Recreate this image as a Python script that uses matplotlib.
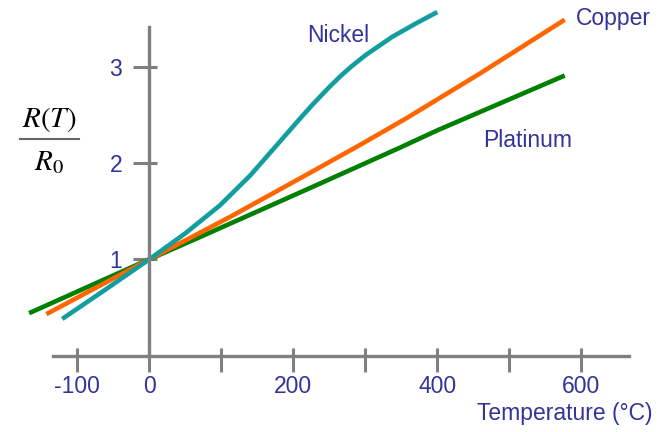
import matplotlib
matplotlib.use("Agg")
import matplotlib.pyplot as plt

# Resistencia relativa R(T)/R0 de tres metales
temp_platino = [-167, 0, 70, 223, 348, 400, 577]
r_platino = [0.44, 1.0, 1.23, 1.74, 2.16, 2.34, 2.91]

temp_cobre = [-143, 0, 112, 209, 293, 358, 459, 577]
r_cobre = [0.43, 1.0, 1.44, 1.84, 2.19, 2.47, 2.93, 3.49]

temp_niquel = [-121, -60, 0, 50, 98, 140, 181, 209, 227, 250, 265, 280, 300, 337, 370, 400]
r_niquel = [0.38, 0.69, 1.0, 1.27, 1.56, 1.87, 2.22, 2.46, 2.61, 2.79, 2.90, 3.00, 3.12,
            3.31, 3.45, 3.57]

ticks_x = [-100, 0, 100, 200, 300, 400, 500, 600]
etiquetas_x = ["-100", "0", "", "200", "", "400", "", "600"]
ticks_y = [1, 2, 3]

AZUL = "#333399"
GRIS = "#808080"

plt.rcParams["font.family"] = ["Liberation Sans", "DejaVu Sans"]
plt.rcParams["mathtext.fontset"] = "stix"

fig = plt.figure(figsize=(6.64, 4.32), dpi=100)
ax = fig.add_axes([0, 0, 1, 1])
ax.set_xlim(-207.4, 714.9)
ax.set_ylim(-0.795, 3.695)

ax.plot(temp_platino, r_platino, color="#008000", lw=3.3, solid_capstyle="butt")
ax.plot(temp_cobre, r_cobre, color="#FF6600", lw=3.3, solid_capstyle="butt")
ax.plot(temp_niquel, r_niquel, color="#129E9E", lw=3.3, solid_capstyle="butt",
        solid_joinstyle="round")

# ejes cruzando en el origen
for lado in ["top", "right"]:
    ax.spines[lado].set_visible(False)
ax.spines["left"].set_position(("data", 0))
ax.spines["bottom"].set_position(("data", 0))
ax.spines["left"].set_bounds(0, 3.41)
ax.spines["bottom"].set_bounds(-134, 666)
for lado in ["left", "bottom"]:
    ax.spines[lado].set_color(GRIS)
    ax.spines[lado].set_linewidth(2.4)

ax.set_xticks(ticks_x)
ax.set_xticklabels(etiquetas_x)
ax.set_yticks(ticks_y)
ax.set_yticklabels([str(v) for v in ticks_y])
ax.set_xticks(ticks_x, minor=True)
ax.set_yticks(ticks_y, minor=True)
ax.xaxis.remove_overlapping_locs = False
ax.yaxis.remove_overlapping_locs = False

ax.tick_params(which="major", direction="out", length=11.5, width=2.2, color=GRIS,
               labelcolor=AZUL, labelsize=16.5)
ax.tick_params(axis="x", which="major", pad=2.5)
ax.tick_params(axis="y", which="major", pad=8)
ax.tick_params(which="minor", direction="in", length=5.8, width=2.2, color=GRIS)

# nombres de las curvas
ax.text(262, 3.26, "Nickel", color=AZUL, fontsize=16.5, ha="center", va="baseline")
ax.text(645, 3.44, "Copper", color=AZUL, fontsize=16.5, ha="center", va="baseline")
ax.text(526, 2.17, "Platinum", color=AZUL, fontsize=16.5, ha="center", va="baseline")
ax.text(577, -0.67, "Temperature (°C)", color=AZUL, fontsize=16.5, ha="center", va="baseline")

# etiqueta del eje y como fracción
ax.text(-139.3, 2.45, r"$R(T)$", fontsize=21, ha="center", va="center")
ax.plot([-180, -98], [2.25, 2.25], color="#666666", lw=1.5, clip_on=False)
ax.text(-139.3, 2.01, r"$R_0$", fontsize=21, ha="center", va="center")

fig.savefig("out.png", dpi=100)
